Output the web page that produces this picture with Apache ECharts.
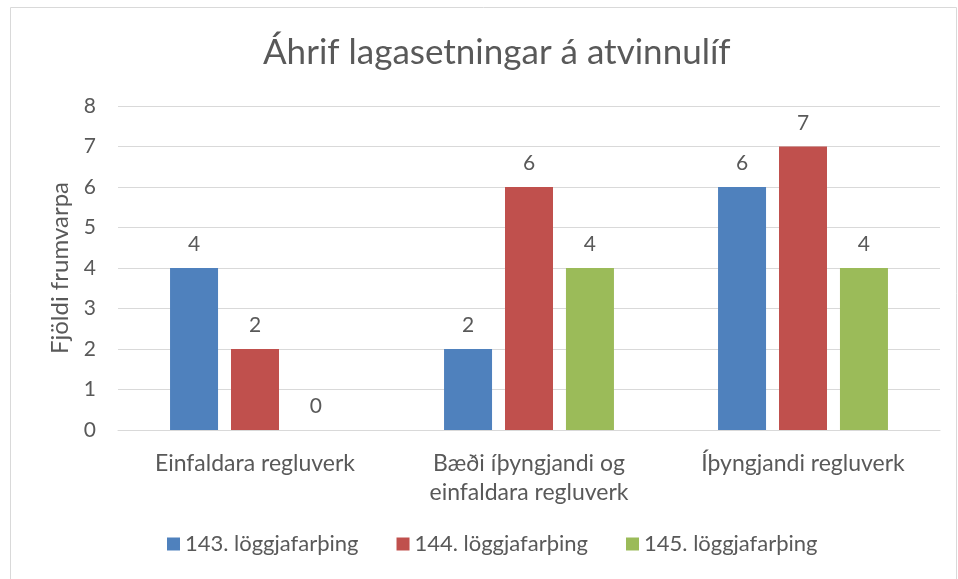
<!DOCTYPE html>
<html><head><meta charset="utf-8">
<script src="https://cdn.jsdelivr.net/npm/echarts@6/dist/echarts.min.js"></script>
<style>html,body{margin:0;padding:0;background:#fff}#c{width:958px;height:579px}</style>
</head><body><div id="c"></div>
<script>
const categories = ['Einfaldara regluverk', 'Bæði íþyngjandi og\neinfaldara regluverk', 'Íþyngjandi regluverk'];
const seriesNames = ['143. löggjafarþing', '144. löggjafarþing', '145. löggjafarþing'];
const s143 = [4, 2, 6];
const s144 = [2, 6, 7];
const s145 = [0, 4, 4];
const colors = ['#4F81BD', '#C0504D', '#9BBB59'];
const FONT = 'Lato, "Open Sans", sans-serif';
const chart = echarts.init(document.getElementById('c'));
const mk = (name, data, color) => ({
  name, type: 'bar', data, barWidth: 48, barGap: '27%',
  itemStyle: { color },
  label: { show: true, position: 'top', distance: 13, color: '#595959', fontSize: 21, fontFamily: FONT }
});
chart.setOption({
  animation: false,
  graphic: [{ type: 'rect', shape: { x: 10.5, y: 7.5, width: 946, height: 580 }, style: { fill: 'none', stroke: '#d9d9d9', lineWidth: 1 } }],
  title: { text: 'Áhrif lagasetningar á atvinnulíf', left: 258, top: 30,
    textStyle: { color: '#595959', fontSize: 35, fontWeight: 'normal', fontFamily: FONT } },
  legend: { bottom: 19, left: 162, itemWidth: 13, itemHeight: 13, itemGap: 38, icon: 'rect',
    textStyle: { color: '#595959', fontSize: 22, fontFamily: FONT }, data: seriesNames },
  grid: { left: 118, right: 18, top: 106, bottom: 149, containLabel: false },
  xAxis: { type: 'category', data: categories,
    axisLine: { lineStyle: { color: '#d9d9d9' } }, axisTick: { show: false },
    axisLabel: { color: '#595959', fontSize: 23, fontFamily: FONT, margin: 19, lineHeight: 29, interval: 0 } },
  yAxis: { type: 'value', min: 0, max: 8, interval: 1, name: 'Fjöldi frumvarpa', nameLocation: 'middle', nameGap: 46,
    nameMoveOverlap: false,
    nameTextStyle: { color: '#595959', fontSize: 24, fontFamily: FONT },
    axisLine: { show: false }, axisTick: { show: false },
    splitLine: { lineStyle: { color: '#d9d9d9' } },
    axisLabel: { color: '#595959', fontSize: 21, fontFamily: FONT, margin: 22 } },
  series: [mk(seriesNames[0], s143, colors[0]), mk(seriesNames[1], s144, colors[1]), mk(seriesNames[2], s145, colors[2])]
});
</script></body></html>
